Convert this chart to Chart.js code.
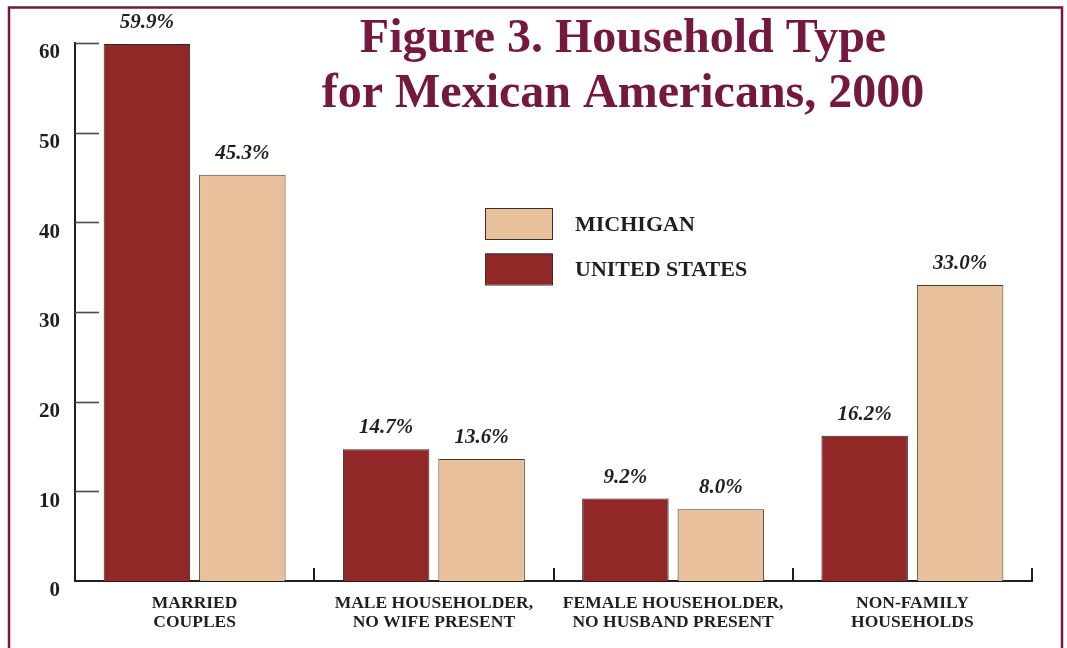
<!DOCTYPE html>
<html>
<head>
<meta charset="utf-8">
<title>Figure 3. Household Type for Mexican Americans, 2000</title>
<script src="https://cdn.jsdelivr.net/npm/chart.js@4/dist/chart.umd.min.js"></script>
<style>
  html, body { margin: 0; padding: 0; background: #ffffff; }
  #wrap { width: 1067px; height: 648px; position: relative; }
</style>
</head>
<body>
<div id="wrap"><canvas id="chart" width="1067" height="648"></canvas></div>
<script>
// Household categories (each label split over two lines)
const categories = [
  ['MARRIED', 'COUPLES'],
  ['MALE HOUSEHOLDER,', 'NO WIFE PRESENT'],
  ['FEMALE HOUSEHOLDER,', 'NO HUSBAND PRESENT'],
  ['NON-FAMILY', 'HOUSEHOLDS']
];
// Percent of Mexican American households by type
const unitedStates = [59.9, 14.7, 9.2, 16.2];
const michigan = [45.3, 13.6, 8.0, 33.0];
const yTicks = [0, 10, 20, 30, 40, 50, 60];
const titleLines = ['Figure 3. Household Type', 'for Mexican Americans, 2000'];

const SERIF = '"Liberation Serif", "Times New Roman", serif';
const MAROON = '#741840';
const INK = '#1f1f1f';

// Page frame, title, inward axis ticks, category labels, value labels, legend
const decorations = {
  id: 'decorations',
  beforeDraw(chart) {
    const ctx = chart.ctx;
    ctx.save();
    ctx.fillStyle = '#ffffff';
    ctx.fillRect(0, 0, chart.width, chart.height);
    ctx.strokeStyle = MAROON;
    ctx.lineWidth = 2.5;
    ctx.strokeRect(9, 7.5, 1053, 700);
    ctx.restore();
  },
  afterDatasetsDraw(chart) {
    const ctx = chart.ctx;
    const yScale = chart.scales.y;
    const xScale = chart.scales.x;
    const area = chart.chartArea;
    ctx.save();
    // y ticks pointing into the plot
    ctx.strokeStyle = '#4a4a4a';
    ctx.lineWidth = 1.6;
    yTicks.forEach(v => {
      if (v === 0) return;
      const py = Math.round(yScale.getPixelForValue(v)) + 0.5;
      ctx.beginPath();
      ctx.moveTo(area.left, py);
      ctx.lineTo(area.left + 24, py);
      ctx.stroke();
    });
    // category separators rising from the x axis
    ctx.strokeStyle = INK;
    ctx.lineWidth = 2;
    for (let i = 0; i < categories.length; i++) {
      const px = Math.round(xScale.getPixelForValue(i + 0.5));
      ctx.beginPath();
      ctx.moveTo(px, area.bottom);
      ctx.lineTo(px, area.bottom - 13);
      ctx.stroke();
    }
    // value labels above bars
    ctx.fillStyle = INK;
    ctx.font = 'italic bold 21px ' + SERIF;
    ctx.textAlign = 'center';
    ctx.textBaseline = 'alphabetic';
    chart.data.datasets.forEach((ds, di) => {
      const meta = chart.getDatasetMeta(di);
      meta.data.forEach((bar, i) => {
        ctx.fillText(ds.data[i].toFixed(1) + '%', bar.x, bar.y - 16);
      });
    });
    ctx.restore();
  },
  afterDraw(chart) {
    const ctx = chart.ctx;
    const xScale = chart.scales.x;
    const area = chart.chartArea;
    ctx.save();
    // title
    ctx.fillStyle = MAROON;
    ctx.font = 'bold 48px ' + SERIF;
    ctx.textAlign = 'center';
    ctx.textBaseline = 'alphabetic';
    ctx.fillText(titleLines[0], 623, 52);
    ctx.fillText(titleLines[1], 623, 107);

    // category labels
    ctx.fillStyle = INK;
    ctx.font = 'bold 17.5px ' + SERIF;
    ctx.textBaseline = 'middle';
    categories.forEach((lines, i) => {
      const cx = xScale.getPixelForTick(i);
      lines.forEach((line, j) => {
        ctx.fillText(line, cx, area.bottom + 22 + j * 19.5);
      });
    });

    // legend
    const items = chart.data.datasets.slice().reverse();
    ctx.textAlign = 'left';
    ctx.font = 'bold 22px ' + SERIF;
    items.forEach((ds, k) => {
      const top = 208 + k * 45.5;
      ctx.fillStyle = ds.backgroundColor;
      ctx.fillRect(485, top, 67, 31);
      ctx.strokeStyle = '#3a2e2e';
      ctx.lineWidth = 1;
      ctx.strokeRect(485.5, top + 0.5, 67, 31);
      ctx.fillStyle = INK;
      ctx.fillText(ds.label, 575, top + 17);
    });
    ctx.restore();
  }
};

new Chart(document.getElementById('chart'), {
  type: 'bar',
  data: {
    labels: categories,
    datasets: [
      {
        label: 'UNITED STATES',
        data: unitedStates,
        backgroundColor: '#922727',
        borderColor: '#3a2424',
        borderWidth: 1,
        categoryPercentage: 0.798,
        barPercentage: 0.906
      },
      {
        label: 'MICHIGAN',
        data: michigan,
        backgroundColor: '#e8c19c',
        borderColor: '#4a3a30',
        borderWidth: 1,
        categoryPercentage: 0.798,
        barPercentage: 0.906
      }
    ]
  },
  options: {
    responsive: false,
    animation: false,
    layout: { padding: { left: 0, top: 43, right: 35, bottom: 0 } },
    plugins: {
      legend: { display: false },
      title: { display: false },
      tooltip: { enabled: false }
    },
    scales: {
      x: {
        grid: { display: false, drawTicks: false },
        border: { display: true, color: INK, width: 2 },
        ticks: { display: false },
        afterFit(scale) { scale.height = 67; }
      },
      y: {
        min: 0,
        max: 60,
        afterBuildTicks(scale) { scale.ticks = yTicks.map(v => ({ value: v })); },
        grid: { display: false, drawTicks: false },
        border: { display: true, color: INK, width: 2 },
        ticks: {
          color: INK,
          font: { family: SERIF, size: 21, weight: 'bold' },
          padding: 15,
          labelOffset: 10
        },
        afterFit(scale) { scale.width = 75; }
      }
    }
  },
  plugins: [decorations]
});
</script>
</body>
</html>
